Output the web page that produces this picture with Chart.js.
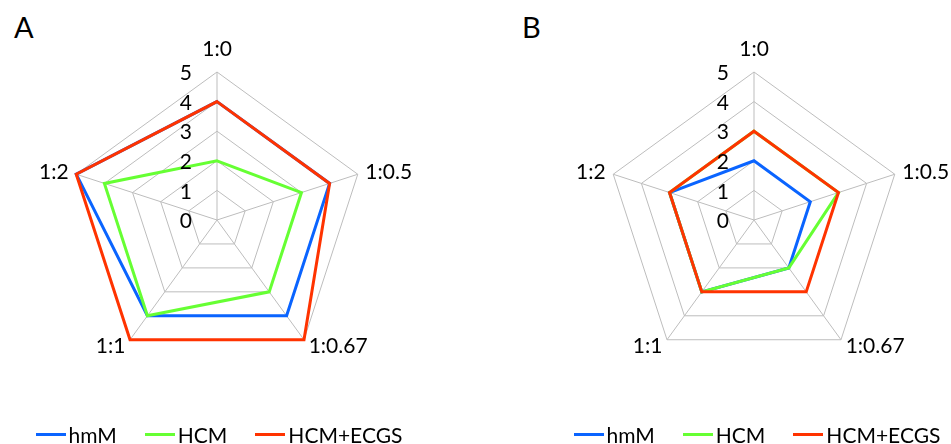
<!DOCTYPE html>
<html lang="en">
<head>
    <meta charset="UTF-8">
    <title>Radar A / B</title>
    <style>
        html, body { margin: 0; padding: 0; background: #fff; }
        body { width: 951px; height: 444px; overflow: hidden; position: relative; font-family: Lato, sans-serif; }
        canvas { position: absolute; top: 0; }
        .panel { position: absolute; top: 12px; font-size: 29px; line-height: 1; color: #000; }
        .legend { position: absolute; top: 422px; height: 24px; display: flex; align-items: center; font-size: 21px; color: #000; }
        .legend .item { display: flex; align-items: center; margin-right: 28px; }
        .legend .item:last-child { margin-right: 0; }
        .legend .swatch { width: 30px; height: 3px; margin-right: 3px; }
    </style>
    <script src="https://cdn.jsdelivr.net/npm/chart.js@4.4.6/dist/chart.umd.min.js"></script>
</head>
<body>
    <div class="panel" style="left:14px">A</div>
    <div class="panel" style="left:522px">B</div>
    <canvas id="chartA" width="434" height="444" style="left:0"></canvas>
    <canvas id="chartB" width="434" height="444" style="left:537px"></canvas>
    <div class="legend" id="legendA"></div>
    <div class="legend" id="legendB"></div>

    <script>
        // axis categories (clockwise from the top)
        const ratios = ['1:0', '1:0.5', '1:0.67', '1:1', '1:2'];
        const tickValues = [0, 1, 2, 3, 4, 5];

        const seriesNames = ['hmM', 'HCM', 'HCM+ECGS'];
        const seriesColors = ['#0A64FF', '#66FF33', '#FF3300'];

        // panel A
        const hmmA = [4, 4, 4, 4, 5];
        const hcmA = [2, 3, 3, 4, 4];
        const ecgsA = [4, 4, 5, 5, 5];

        // panel B
        const hmmB = [2, 2, 2, 3, 3];
        const hcmB = [3, 3, 2, 3, 3];
        const ecgsB = [3, 3, 3, 3, 3];

        const labelFont = '21px Lato, sans-serif';

        // draws the 0..5 numbers left of the vertical axis and the ratio labels
        const radarText = {
            id: 'radarText',
            afterDraw(chart) {
                const scale = chart.scales.r;
                const ctx = chart.ctx;
                ctx.save();
                ctx.font = labelFont;
                ctx.fillStyle = '#000';
                ctx.textBaseline = 'middle';

                ctx.textAlign = 'right';
                tickValues.forEach(v => {
                    const y = scale.yCenter - scale.getDistanceFromCenterForValue(v);
                    ctx.fillText(String(v), scale.xCenter - 25, y + 1.5);
                });

                ratios.forEach((label, i) => {
                    const pos = scale.getPointPosition(i, scale.drawingArea + 8);
                    let y = pos.y + 0.5;
                    if (Math.abs(pos.x - scale.xCenter) < 1) {
                        ctx.textAlign = 'center';
                        y = pos.y - 15;
                    } else if (pos.x > scale.xCenter) {
                        ctx.textAlign = 'left';
                    } else {
                        ctx.textAlign = 'right';
                    }
                    ctx.fillText(label, pos.x, y);
                });
                ctx.restore();
            }
        };

        function makeRadar(id, values) {
            const ctx = document.getElementById(id).getContext('2d');
            return new Chart(ctx, {
                type: 'radar',
                data: {
                    labels: ratios,
                    datasets: values.map((data, i) => ({
                        label: seriesNames[i],
                        data: data,
                        borderColor: seriesColors[i],
                        backgroundColor: seriesColors[i],
                        borderWidth: 3,
                        fill: false,
                        pointRadius: 0,
                        tension: 0,
                        order: 3 - i // red on top, then green, then blue
                    }))
                },
                options: {
                    responsive: false,
                    animation: false,
                    layout: { padding: { top: 72, bottom: 75, left: 0, right: 0 } },
                    plugins: {
                        legend: { display: false },
                        tooltip: { enabled: false }
                    },
                    scales: {
                        r: {
                            min: 0,
                            max: 5,
                            ticks: { stepSize: 1, display: false },
                            grid: { color: '#BDBDBD', lineWidth: 1 },
                            angleLines: { color: '#BDBDBD', lineWidth: 1 },
                            pointLabels: { display: false }
                        }
                    }
                },
                plugins: [radarText]
            });
        }

        function makeLegend(id, centerX) {
            const box = document.getElementById(id);
            seriesNames.forEach((name, i) => {
                const item = document.createElement('div');
                item.className = 'item';
                item.innerHTML = '<span class="swatch" style="background:' + seriesColors[i] + '"></span><span>' + name + '</span>';
                box.appendChild(item);
            });
            box.style.left = (centerX - box.offsetWidth / 2) + 'px';
        }

        makeRadar('chartA', [hmmA, hcmA, ecgsA]);
        makeRadar('chartB', [hmmB, hcmB, ecgsB]);
        makeLegend('legendA', 219);
        makeLegend('legendB', 757);
    </script>
</body>
</html>
